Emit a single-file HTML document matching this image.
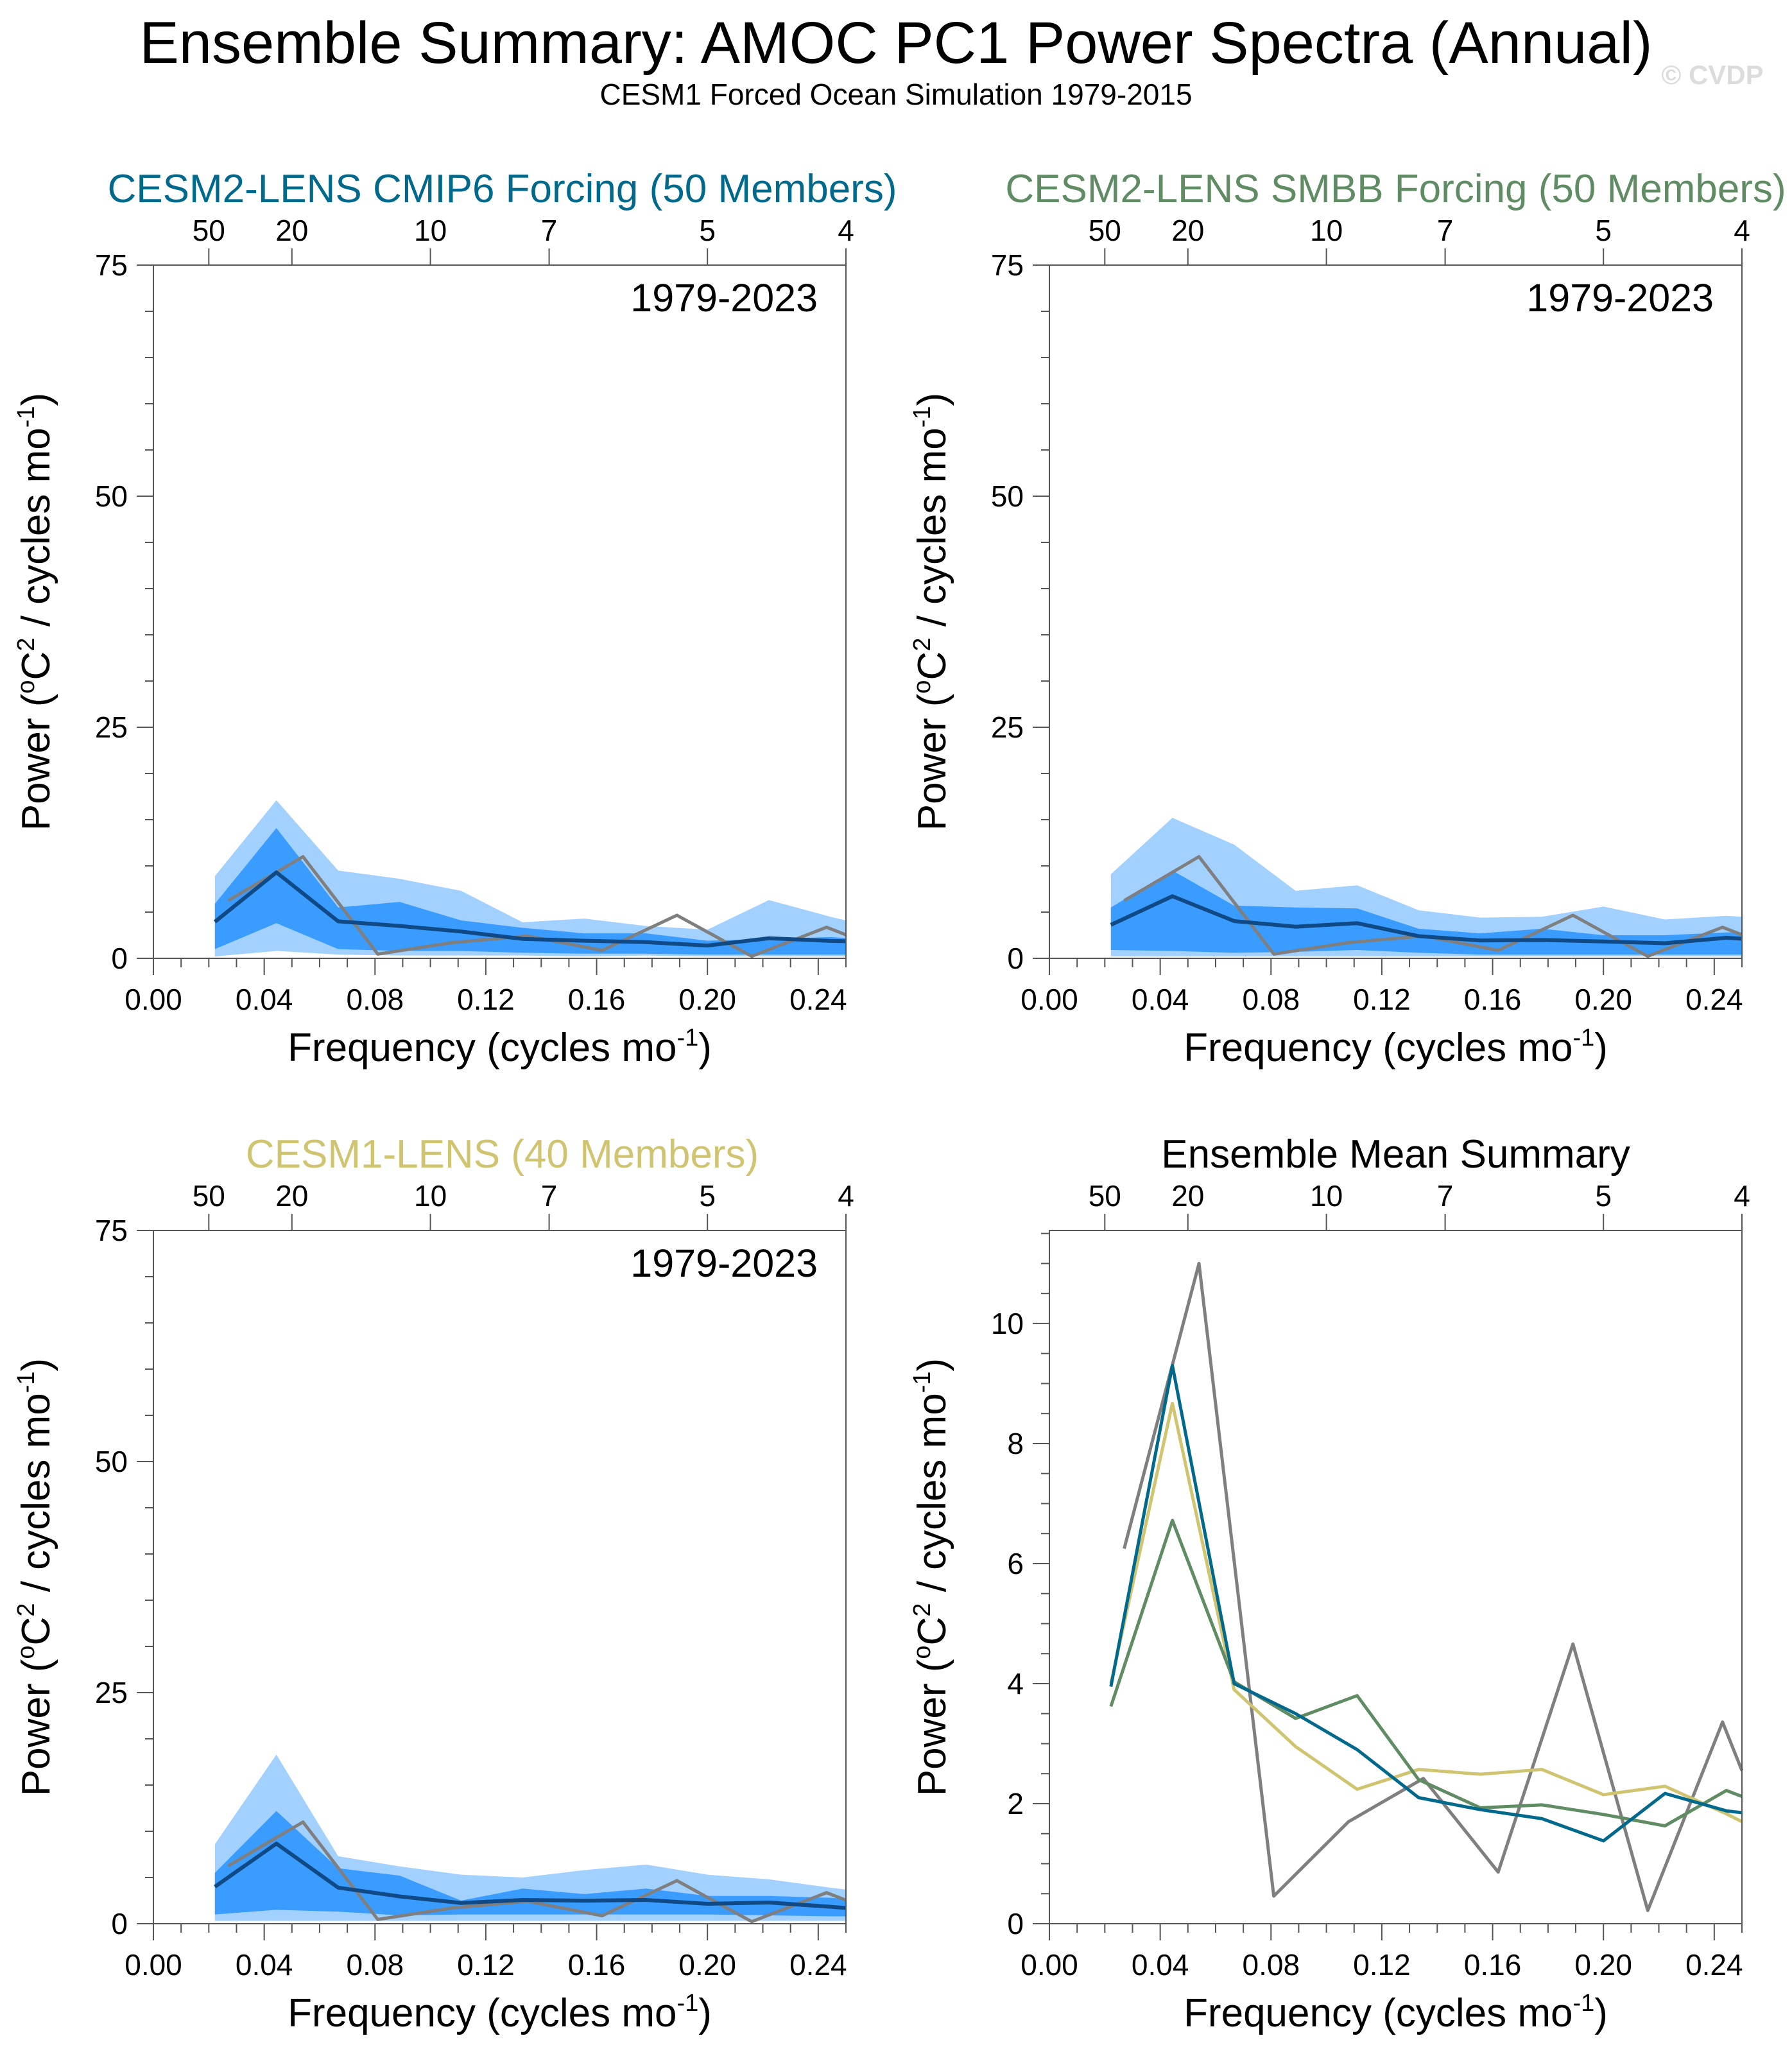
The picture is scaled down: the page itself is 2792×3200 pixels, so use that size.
<!DOCTYPE html>
<html><head><meta charset="utf-8"><style>
html,body{margin:0;padding:0;background:#fff;}
svg{display:block;font-family:"Liberation Sans",Arial,sans-serif;}
</style></head><body>
<svg id="fig" width="2792" height="3200" viewBox="0 0 2792 3200" xmlns="http://www.w3.org/2000/svg">
<text x="1396" y="98" font-size="92" text-anchor="middle">Ensemble Summary: AMOC PC1 Power Spectra (Annual)</text>
<text x="1396" y="163" font-size="46" text-anchor="middle">CESM1 Forced Ocean Simulation 1979-2015</text>
<text x="2668" y="131" font-size="42" font-weight="bold" fill="#dcdcdc" text-anchor="middle">© CVDP</text>
</svg>
<script>
// shared x grid (cycles/mo)
const freqs = [0.0222,0.0444,0.0667,0.0889,0.1111,0.1333,0.1556,0.1778,0.2,0.2222,0.2444,0.25];
const obsFreqs = [0.027,0.054,0.081,0.108,0.135,0.162,0.189,0.216,0.243,0.25];
const obsVals = [6.25,11.0,0.46,1.7,2.42,0.86,4.66,0.22,3.36,2.55];
const cmip6Mean = [3.95,9.3,4.0,3.5,2.9,2.1,1.9,1.75,1.38,2.17,1.88,1.85];
const smbbMean = [3.62,6.72,4.03,3.42,3.8,2.4,1.93,1.98,1.82,1.63,2.22,2.12];
const cesm1Mean = [4.0,8.67,3.9,2.95,2.24,2.57,2.49,2.57,2.15,2.29,1.83,1.7];
const cmip6LightHi = [8.9,17.1,9.5,8.6,7.3,3.9,4.3,3.5,3.1,6.3,4.5,4.1];
const cmip6LightLo = [0.2,0.8,0.4,0.3,0.3,0.3,0.2,0.3,0.2,0.2,0.2,0.2];
const cmip6DarkHi = [5.9,14.1,5.5,6.1,4.1,3.3,2.7,2.7,1.9,2.1,2.3,2.2];
const cmip6DarkLo = [1.0,3.8,1.0,0.8,0.8,0.6,0.5,0.5,0.4,0.4,0.4,0.4];
const smbbLightHi = [9.1,15.2,12.3,7.3,7.9,5.2,4.4,4.5,5.6,4.2,4.6,4.5];
const smbbLightLo = [0.2,0.2,0.2,0.2,0.2,0.2,0.2,0.2,0.2,0.2,0.2,0.2];
const smbbDarkHi = [5.5,9.5,5.7,5.5,5.4,3.2,2.7,3.2,2.5,2.5,2.8,2.8];
const smbbDarkLo = [0.9,0.8,0.6,0.7,0.9,0.6,0.4,0.4,0.4,0.4,0.4,0.4];
const cesm1LightHi = [8.6,18.3,7.3,6.2,5.3,5.0,5.8,6.4,5.3,4.8,3.9,3.7];
const cesm1LightLo = [0.3,0.3,0.3,0.3,0.3,0.3,0.3,0.3,0.3,0.3,0.3,0.3];
const cesm1DarkHi = [5.5,12.2,6.0,5.2,2.5,3.8,3.2,3.8,3.0,3.0,2.8,2.7];
const cesm1DarkLo = [1.0,1.5,1.3,0.9,1.0,1.0,1.0,1.0,1.0,0.9,0.8,0.8];
const xTicks = [0,0.04,0.08,0.12,0.16,0.20,0.24];
const xTickLabels = ["0.00","0.04","0.08","0.12","0.16","0.20","0.24"];
const periodTicks = [50,20,10,7,5,4];
const yTicksA = [0,25,50,75];
const yTicksB = [0,2,4,6,8,10];

const NS="http://www.w3.org/2000/svg";
const svg=document.getElementById('fig');
function mk(tag,attrs,parent){const e=document.createElementNS(NS,tag);for(const k in attrs)e.setAttribute(k,attrs[k]);(parent||svg).appendChild(e);return e;}

function panel(cfg){
  const L=cfg.x0,R=cfg.x0+1079,T=cfg.y0,B=cfg.y0+1080;
  const g=mk('g',{});
  
  
  const sx=f=>L+(f/0.25)*(R-L);
  const sy=v=>B-(v/cfg.ymax)*(B-T);
  if(cfg.lightHi){
    const band=(hi,lo,col,nm)=>{
      let d='M'+freqs.map((f,i)=>sx(f)+','+sy(hi[i])).join(' L');
      d+=' L'+freqs.slice().reverse().map((f,j)=>{const i=freqs.length-1-j;return sx(f)+','+sy(lo[i]);}).join(' L')+' Z';
      const p=mk('path',{d:d,fill:col},g);
      
      
    };
    band(cfg.lightHi,cfg.lightLo,'#a3d1ff','outer-spread-band');
    band(cfg.darkHi,cfg.darkLo,'#3a9cff','inner-spread-band');
  }
  cfg.lines.forEach(ln=>{
    const pts=ln.x.map((f,i)=>sx(f)+','+sy(ln.y[i])).join(' ');
    const p=mk('polyline',{points:pts,fill:'none',stroke:ln.color,'stroke-width':ln.w,'stroke-linejoin':'round'},g);
    
    
  });
  const fr=mk('rect',{x:L,y:T,width:R-L,height:B-T,fill:'none',stroke:'#555','stroke-width':2},g);
  
  
  for(let k=0;k<=25;k++){const f=k*0.01;const X=sx(f);const major=(k%4===0);
    mk('line',{x1:X,y1:B,x2:X,y2:B+(major?26:14),stroke:'#555','stroke-width':2},g);}
  xTicks.forEach((f,i)=>{const t=mk('text',{x:sx(f),y:B+80,'font-size':46,'text-anchor':'middle'},g);t.textContent=xTickLabels[i];
    
    });
  periodTicks.forEach(p=>{const X=sx(1/p);mk('line',{x1:X,y1:T,x2:X,y2:T-26,stroke:'#555','stroke-width':2},g);
    const t=mk('text',{x:X,y:T-38,'font-size':46,'text-anchor':'middle'},g);t.textContent=p;
    
    });
  const minorStep=cfg.minor;
  for(let v=0;v<=cfg.ymax+1e-9;v+=minorStep){const Y=sy(v);const major=cfg.yTicks.some(t=>Math.abs(t-v)<1e-6);
    mk('line',{x1:L,y1:Y,x2:L-(major?26:13),y2:Y,stroke:'#555','stroke-width':2},g);}
  cfg.yTicks.forEach(v=>{const t=mk('text',{x:L-40,y:sy(v)+16,'font-size':46,'text-anchor':'end'},g);t.textContent=v;
    
    });
  const tt=mk('text',{x:(L+R)/2+cfg.titleDx,y:T-98,'font-size':62,'text-anchor':'middle',fill:cfg.titleColor},g);tt.textContent=cfg.title;
  
  
  const xt=mk('text',{x:(L+R)/2,y:B+160,'font-size':62,'text-anchor':'middle'},g);
  xt.innerHTML='Frequency (cycles mo<tspan dy="-24" font-size="38">-1</tspan><tspan dy="24">)</tspan>';
  
  
  const yt=mk('text',{x:0,y:0,'font-size':62,'text-anchor':'middle',transform:`translate(${L-162},${(T+B)/2}) rotate(-90)`},g);
  yt.innerHTML='Power (<tspan dy="-24" font-size="38">o</tspan><tspan dy="24">C</tspan><tspan dy="-24" font-size="38">2</tspan><tspan dy="24"> / cycles mo</tspan><tspan dy="-24" font-size="38">-1</tspan><tspan dy="24">)</tspan>';
  
  
  if(cfg.period){const t=mk('text',{x:R-44,y:T+72,'font-size':61,'text-anchor':'end'},g);t.textContent=cfg.period;
    
    }
}

const navy='#0f4a87', gray='#7f7f7f';
panel({name:'panel-cmip6',x0:239,y0:413,ymax:75,minor:5,yTicks:yTicksA,title:'CESM2-LENS CMIP6 Forcing (50 Members)',titleColor:'#00698c',titleDx:4,period:'1979-2023',
  lightHi:cmip6LightHi,lightLo:cmip6LightLo,darkHi:cmip6DarkHi,darkLo:cmip6DarkLo,
  lines:[{x:obsFreqs,y:obsVals,color:gray,w:5,name:'observed-line'},{x:freqs,y:cmip6Mean,color:navy,w:6,name:'ensemble-mean-line'}]});
panel({name:'panel-smbb',x0:1635,y0:413,ymax:75,minor:5,yTicks:yTicksA,title:'CESM2-LENS SMBB Forcing (50 Members)',titleColor:'#5f8c62',titleDx:0,period:'1979-2023',
  lightHi:smbbLightHi,lightLo:smbbLightLo,darkHi:smbbDarkHi,darkLo:smbbDarkLo,
  lines:[{x:obsFreqs,y:obsVals,color:gray,w:5,name:'observed-line'},{x:freqs,y:smbbMean,color:navy,w:6,name:'ensemble-mean-line'}]});
panel({name:'panel-cesm1',x0:239,y0:1917,ymax:75,minor:5,yTicks:yTicksA,title:'CESM1-LENS (40 Members)',titleColor:'#d0c470',titleDx:4,period:'1979-2023',
  lightHi:cesm1LightHi,lightLo:cesm1LightLo,darkHi:cesm1DarkHi,darkLo:cesm1DarkLo,
  lines:[{x:obsFreqs,y:obsVals,color:gray,w:5,name:'observed-line'},{x:freqs,y:cesm1Mean,color:navy,w:6,name:'ensemble-mean-line'}]});
panel({name:'panel-ensemble-mean',x0:1635,y0:1917,ymax:11.55,minor:0.5,yTicks:yTicksB,title:'Ensemble Mean Summary',titleColor:'#000',titleDx:0,
  lines:[{x:obsFreqs,y:obsVals,color:gray,w:5,name:'observed-line'},
         {x:freqs,y:cesm1Mean,color:'#d0c470',w:5,name:'cesm1-mean-line'},
         {x:freqs,y:smbbMean,color:'#5f8c62',w:5,name:'smbb-mean-line'},
         {x:freqs,y:cmip6Mean,color:'#00698c',w:5,name:'cmip6-mean-line'}]});
</script>
</body></html>
